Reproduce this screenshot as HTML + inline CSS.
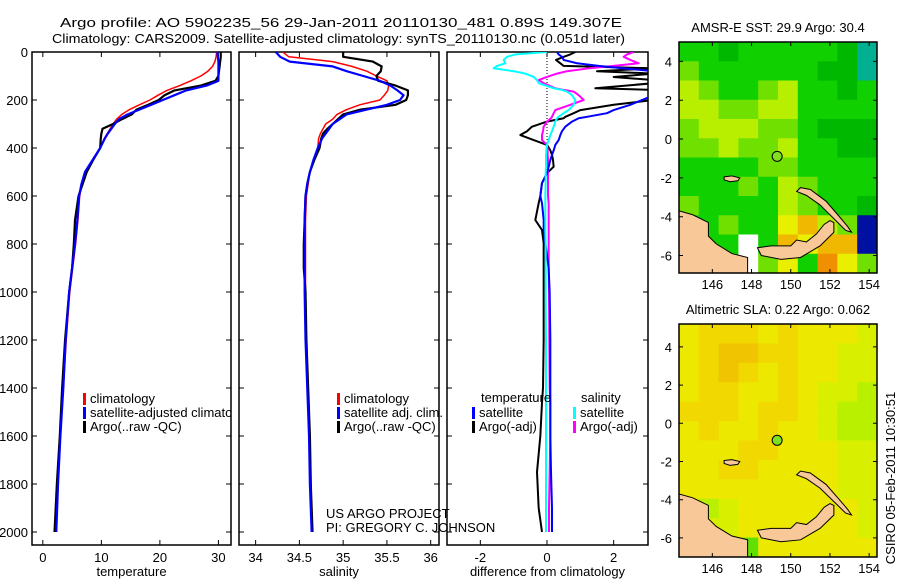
<!DOCTYPE html>
<html><head><meta charset="utf-8"><style>
html,body{margin:0;padding:0;background:#fff;}
svg{display:block;font-family:"Liberation Sans",sans-serif;}
text{font-size:13px;fill:#000;}
</style></head><body>
<svg id="fig" width="900" height="580" xmlns="http://www.w3.org/2000/svg">
<defs>
<clipPath id="c1"><rect x="32" y="52" width="199" height="493"/></clipPath>
<clipPath id="c2"><rect x="239" y="52" width="200" height="493"/></clipPath>
<clipPath id="c3"><rect x="447" y="52" width="201" height="493"/></clipPath>
<clipPath id="cm1"><rect x="679" y="42" width="198" height="231"/></clipPath>
<clipPath id="cm2"><rect x="679" y="324" width="198" height="233"/></clipPath>
</defs>
<text x="60" y="27" textLength="562" lengthAdjust="spacingAndGlyphs">Argo profile: AO 5902235_56 29-Jan-2011 20110130_481 0.89S 149.307E</text>
<text x="52" y="43" textLength="573" lengthAdjust="spacingAndGlyphs">Climatology: CARS2009. Satellite-adjusted climatology: synTS_20110130.nc (0.051d later)</text>
<g id="g1"></g>
<g id="g2"></g>
<g id="g3"></g>
<g id="m1"></g>
<g id="m2"></g>
<text x="0" y="0" transform="translate(895,478) rotate(-90)" text-anchor="middle">CSIRO 05-Feb-2011 10:30:51</text>
</svg>
<script>
const tDepth=[0,20,40,60,80,100,120,140,160,180,200,220,240,260,280,300,320,340,360,400,450,500,550,600,700,800,900,1000,1200,1400,1600,1800,2000];
const tClim=[29.7,29.6,29.4,29.0,28.2,27.0,25.3,23.4,21.2,19.7,18.3,16.5,14.8,13.5,12.6,12.0,11.5,11.0,10.5,9.8,8.5,7.2,6.7,6.3,6.0,5.6,5.1,4.6,4.0,3.5,3.0,2.6,2.3];
const tSat=[29.8,29.9,30.0,30.0,30.0,30.0,30.0,28.0,24.5,22.5,20.5,18.5,16.5,14.5,13.0,12.3,11.7,11.1,10.6,9.8,8.5,7.2,6.6,6.2,5.9,5.5,5.0,4.5,3.9,3.5,3.0,2.6,2.3];
const tArgo=[30.4,30.4,30.3,30.2,30.1,30.0,29.5,27.0,22.5,20.8,19.8,18.0,16.0,15.2,13.5,12.0,10.2,10.0,9.9,9.8,8.6,7.5,6.8,6.1,5.5,5.3,5.0,4.5,3.8,3.3,2.9,2.4,2.0];
const sClim=[34.31,34.38,34.88,35.10,35.27,35.38,35.50,35.52,35.51,35.47,35.42,35.19,35.04,34.93,34.88,34.80,34.77,34.74,34.72,34.71,34.66,34.62,34.60,34.58,34.57,34.57,34.57,34.57,34.58,34.60,34.62,34.63,34.65];
const sSat=[34.23,34.28,34.39,34.88,35.04,35.23,35.42,35.54,35.62,35.69,35.65,35.50,35.27,35.04,34.96,34.88,34.84,34.80,34.76,34.71,34.66,34.62,34.59,34.57,34.56,34.56,34.56,34.56,34.57,34.59,34.61,34.62,34.64];
const sArgo=[35.00,35.00,35.34,35.44,35.43,35.38,35.40,35.60,35.74,35.74,35.72,35.60,35.20,35.00,34.94,34.88,34.82,34.77,34.75,34.73,34.67,34.62,34.59,34.57,34.56,34.55,34.55,34.57,34.58,34.60,34.62,34.63,34.65];
const dDepth=[0,10,20,33,47,58,68,80,90,104,117,130,151,158,165,180,200,220,242,255,270,276,290,311,330,346,367,387,410,429,450,478,505,546,600,630,700,742,797,900,1000,1200,1400,1460,1600,1750,1900,2000];
const dTArgo=[0.85,0.7,0.5,0.27,0.4,0.5,3.2,1.5,3.2,2.0,3.2,3.2,1.45,3.2,3.2,3.2,3.2,2.0,1.0,0.8,0.55,0.5,0.0,-0.45,-0.6,-0.8,-0.4,0.0,0.1,0.15,0.18,0.2,0.0,-0.15,-0.2,-0.25,-0.35,-0.15,-0.1,-0.1,-0.1,-0.1,-0.12,-0.15,-0.2,-0.3,-0.25,-0.15];
const dTSat=[0.3,0.35,0.45,0.5,0.9,1.55,2.3,3.2,3.2,3.2,3.2,3.2,3.2,3.2,3.2,3.2,2.85,2.5,2.0,1.8,1.2,0.95,0.75,0.55,0.45,0.4,0.35,0.25,0.2,0.15,0.1,0.05,0.0,-0.15,-0.2,-0.15,-0.1,-0.1,-0.05,0.05,0.08,0.1,0.1,0.1,0.1,0.12,0.15,0.15];
const dSSat=[0,-0.95,-1.2,-1.3,-1.25,-1.5,-1.6,-1.0,-0.65,-0.4,-0.3,-0.25,0.2,0.45,0.6,0.75,0.85,0.8,0.65,0.5,0.35,0.3,0.25,0.2,0.15,0.1,0.05,0.0,-0.02,-0.03,-0.03,-0.03,-0.04,-0.04,-0.05,-0.05,-0.05,-0.05,-0.04,-0.04,-0.04,-0.03,-0.03,-0.03,-0.03,-0.03,-0.03,-0.03];
const dSArgo=[2.6,2.4,2.3,2.5,2.75,2.0,1.25,0.6,0.3,0.0,-0.25,-0.1,0.25,0.5,0.8,0.95,1.1,0.7,0.25,0.2,0.15,0.12,0.0,-0.1,-0.12,-0.15,-0.15,0.0,0.02,0.02,0.03,0.03,0.03,0.03,0.03,0.05,0.05,0.05,0.05,0.05,0.06,0.07,0.08,0.1,0.1,0.08,0.06,0.06];
const depthTicks=[0,200,400,600,800,1000,1200,1400,1600,1800,2000];
const tempTicks=[0,10,20,30];
const salTicks=[34,34.5,35,35.5,36];
const salTickLabels=["34","34.5","35","35.5","36"];
const diffTicks=[-2,0,2];
const lonTicks=[146,148,150,152,154];
const latTicks=[4,2,0,-2,-4,-6];
const sstGrid=[
[3,3,2,3,3,3,3,3,2,1],[4,3,3,3,3,3,3,2,2,1],[5,4,3,3,4,5,3,3,2,3],[5,5,4,4,5,5,3,3,3,3],
[4,5,5,5,4,4,3,2,2,2],[4,4,5,4,4,5,3,3,2,2],[3,3,3,3,4,4,3,3,3,3],[3,3,3,4,3,5,4,3,3,3],
[4,3,3,3,3,5,4,3,3,2],[3,3,4,3,3,6,7,5,4,0],[3,3,3,-1,3,7,6,7,7,0],[3,3,3,-1,4,6,3,8,6,4]];
const slaGrid=[
[3,4,4,4,3,4,3,3,3,2],[3,4,5,5,4,4,3,3,2,2],[3,4,5,4,3,4,3,3,2,2],[3,4,4,3,3,4,3,2,2,1],
[4,4,4,3,4,4,3,2,1,1],[3,4,3,3,4,3,3,2,1,1],[3,3,3,4,4,3,3,3,2,2],[3,3,4,4,3,3,3,3,2,2],
[3,3,3,3,3,3,3,3,2,2],[2,1,2,3,3,3,3,3,3,2],[2,2,2,3,3,3,3,3,3,2],[2,2,2,0,3,3,3,3,3,3]];
const sstColors={"-1":"#ffffff",0:"#0010a0",1:"#00b090",2:"#00b800",3:"#10d000",4:"#70e000",5:"#b8ee00",6:"#e8f000",7:"#f0b800",8:"#f09000"};
const slaColors={0:"#60e000",1:"#b8f000",2:"#d8f000",3:"#ece800",4:"#f0d800",5:"#f0c400"};
const landMain=[[144.3,-3.7],[145,-3.9],[145.8,-4.3],[145.8,-5.0],[146.2,-5.4],[147,-5.9],[147.8,-6.1],[147.8,-7],[144.3,-7]];
const landNB=[[148.3,-5.6],[149,-5.5],[150,-5.5],[150.3,-5.2],[150.8,-5.3],[151.3,-4.9],[151.7,-4.4],[152,-4.2],[152.2,-4.3],[152.2,-4.8],[151.5,-5.5],[150.5,-6.1],[149.5,-6.2],[148.5,-6.0]];
const landNI=[[150.5,-2.5],[151,-2.6],[151.8,-3.2],[152.4,-3.9],[152.9,-4.5],[153.1,-4.8],[152.8,-4.7],[152.3,-4.2],[151.5,-3.4],[150.8,-2.9],[150.3,-2.7]];
const landManus=[[146.6,-1.95],[147.0,-1.9],[147.4,-2.0],[147.3,-2.15],[146.9,-2.2],[146.6,-2.1]];
const argoPos=[149.307,-0.89];

const NS="http://www.w3.org/2000/svg";
function mk(tag,attrs,parent){const e=document.createElementNS(NS,tag);for(const k in attrs)e.setAttribute(k,attrs[k]);parent.appendChild(e);return e;}
const Y=d=>52+d*0.24;

function panel(g,x0,x1,xmin,xmax,ticks,labels,xlabel,leftLabels){
  const X=v=>x0+(v-xmin)/(xmax-xmin)*(x1-x0);
  const fr=mk('rect',{x:x0,y:52,width:x1-x0,height:493,fill:'none',stroke:'#000','stroke-width':1.5},g);
  
  
  depthTicks.forEach(d=>{
    const l=mk('path',{d:`M${x0},${Y(d)}h5M${x1},${Y(d)}h-5`,stroke:'#000'},g);
    
    
    if(leftLabels){const t=mk('text',{x:x0-4,y:Y(d)+5,'text-anchor':'end'},g);t.textContent=d;
      
      }
  });
  ticks.forEach((v,i)=>{
    const l=mk('path',{d:`M${X(v)},52v5M${X(v)},545v-5`,stroke:'#000'},g);
    
    
    const t=mk('text',{x:X(v),y:562,'text-anchor':'middle'},g);t.textContent=labels[i];
    
    
  });
  const xl=mk('text',{x:(x0+x1)/2,y:576,'text-anchor':'middle'},g);xl.textContent=xlabel;
  
  
  return X;
}
function line(g,X,dep,vals,color,w,clip,name){
  const p=mk('polyline',{points:vals.map((v,i)=>X(v)+','+Y(dep[i])).join(' '),fill:'none',stroke:color,'stroke-width':w,'clip-path':'url(#'+clip+')','stroke-linejoin':'round'},g);
  
  
}
function legend(g,x,y,color,label,clip){
  const r=mk('rect',{x:x,y:y-10,width:3,height:12,fill:color},g);
  
  
  const t=mk('text',{x:x+7,y:y},g);t.textContent=label;
  if(clip)t.setAttribute('clip-path','url(#'+clip+')');
  
  
}
function txt(g,x,y,s,name){const t=mk('text',{x:x,y:y},g);t.textContent=s;
  
  }

const g1=document.getElementById('g1');
const X1=panel(g1,32,231,-1.85,32.15,tempTicks,tempTicks.map(String),'temperature',true);
line(g1,X1,tDepth,tClim,'#ff0000',1.5,'c1','temp-climatology-line');
line(g1,X1,tDepth,tArgo,'#000000',2.2,'c1','temp-argo-line');
line(g1,X1,tDepth,tSat,'#0000ff',2.2,'c1','temp-satellite-line');
legend(g1,83,403,'#ff0000','climatology');
legend(g1,83,417,'#0000ff','satellite-adjusted climatology','c1');
legend(g1,83,431,'#000','Argo(..raw -QC)');

const g2=document.getElementById('g2');
const X2=panel(g2,239,439,33.81,36.095,salTicks,salTickLabels,'salinity',false);
line(g2,X2,tDepth,sClim,'#ff0000',1.5,'c2','sal-climatology-line');
line(g2,X2,tDepth,sArgo,'#000000',2.2,'c2','sal-argo-line');
line(g2,X2,tDepth,sSat,'#0000ff',2.2,'c2','sal-satellite-line');
legend(g2,337,403,'#ff0000','climatology');
legend(g2,337,417,'#0000ff','satellite adj. clim.');
legend(g2,337,431,'#000','Argo(..raw -QC)');
txt(g2,326,518,'US ARGO PROJECT','project-credit');
txt(g2,326,532,'PI: GREGORY C. JOHNSON','pi-credit');

const g3=document.getElementById('g3');
const X3=panel(g3,447,648,-3.0,3.03,diffTicks,diffTicks.map(String),'difference from climatology',false);
const zl=mk('line',{x1:X3(0),y1:52,x2:X3(0),y2:Y(500),stroke:'#000','stroke-dasharray':'1,2'},g3);


line(g3,X3,dDepth,dTArgo,'#000000',2,'c3','temp-argo-diff-line');
line(g3,X3,dDepth,dSArgo,'#ff00ff',2,'c3','sal-argo-diff-line');
line(g3,X3,dDepth,dTSat,'#0000ff',2,'c3','temp-satellite-diff-line');
line(g3,X3,dDepth,dSSat,'#00ffff',2,'c3','sal-satellite-diff-line');
txt(g3,481,402,'temperature','legend-temperature-heading');
txt(g3,581,402,'salinity','legend-salinity-heading');
legend(g3,472,417,'#0000ff','satellite');
legend(g3,472,431,'#000','Argo(-adj)');
legend(g3,573,417,'#00ffff','satellite');
legend(g3,573,431,'#ff00ff','Argo(-adj)');

function map(g,y0,y1,latTop,latBot,grid,colors,title,clip){
  const x0=679,x1=877,lonMin=144.3,lonMax=154.4;
  const MX=v=>x0+(v-lonMin)/(lonMax-lonMin)*(x1-x0);
  const MY=v=>y0+(latTop-v)/(latTop-latBot)*(y1-y0);
  const cg=mk('g',{'clip-path':'url(#'+clip+')'},g);
  const rows=grid.length,cols=grid[0].length;
  const cw=(lonMax-lonMin)/cols,ch=(latTop-latBot)/rows;
  grid.forEach((row,r)=>row.forEach((v,c)=>{
    const a=MX(lonMin+c*cw),b=MY(latTop-r*ch);
    const e=mk('rect',{x:a,y:b,width:MX(lonMin+(c+1)*cw)-a+0.5,height:MY(latTop-(r+1)*ch)-b+0.5,fill:colors[v]},cg);
    
    
  }));
  [landMain,landNB,landNI,landManus].forEach(poly=>{
    const p=mk('polygon',{points:poly.map(q=>MX(q[0])+','+MY(q[1])).join(' '),fill:'#f8c898',stroke:'#000','stroke-width':1},cg);
    
    
  });
  const dot=mk('circle',{cx:MX(argoPos[0]),cy:MY(argoPos[1]),r:5,fill:'#80e020',stroke:'#000'},g);
  
  
  const fr=mk('rect',{x:x0,y:y0,width:x1-x0,height:y1-y0,fill:'none',stroke:'#000','stroke-width':1.5},g);
  
  
  lonTicks.forEach(v=>{
    const l=mk('path',{d:`M${MX(v)},${y0}v4M${MX(v)},${y1}v-4`,stroke:'#000'},g);
    
    
    const t=mk('text',{x:MX(v),y:y1+16,'text-anchor':'middle'},g);t.textContent=v;
    
    
  });
  latTicks.forEach(v=>{
    const l=mk('path',{d:`M${x0},${MY(v)}h4M${x1},${MY(v)}h-4`,stroke:'#000'},g);
    
    
    const t=mk('text',{x:x0-7,y:MY(v)+5,'text-anchor':'end'},g);t.textContent=v;
    
    
  });
  const tt=mk('text',{x:(x0+x1)/2,y:y0-10,'text-anchor':'middle'},g);tt.textContent=title;
  
  
}
map(document.getElementById('m1'),42,273,5.0,-6.9,sstGrid,sstColors,'AMSR-E SST: 29.9 Argo: 30.4','cm1');
map(document.getElementById('m2'),324,557,5.2,-7.0,slaGrid,slaColors,'Altimetric SLA: 0.22 Argo: 0.062','cm2');
</script>
</body></html>
